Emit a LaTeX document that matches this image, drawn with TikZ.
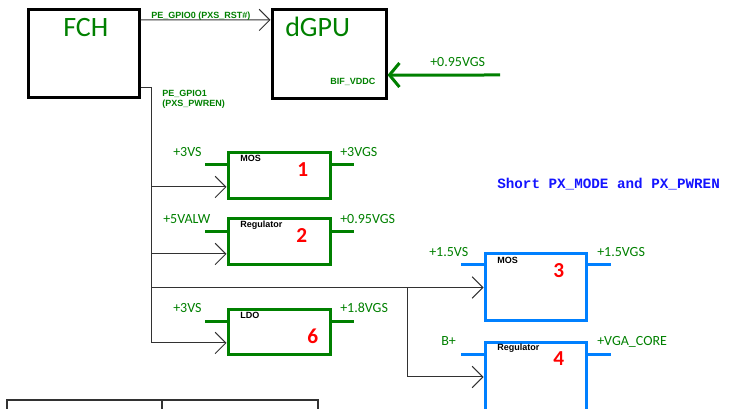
\documentclass[tikz,border=0pt]{standalone}
\usepackage{fontspec}
\setmainfont{Carlito}
\newfontfamily\arb{Liberation Sans}
\newfontfamily\monof{Liberation Mono}
\usetikzlibrary{arrows.meta}
\definecolor{grn}{RGB}{0,128,0}
\definecolor{bbox}{RGB}{0,128,255}
\definecolor{btxt}{RGB}{20,20,255}
\definecolor{rd}{RGB}{255,0,0}
\definecolor{wirec}{RGB}{50,50,50}
\begin{document}
\begin{tikzpicture}[x=0.75pt,y=-0.75pt,
  bigtxt/.style={text=grn, font=\fontsize{21}{21}\selectfont, inner sep=0, anchor=base west},
  vlbl/.style={text=grn, font=\fontsize{10.5}{10.5}\selectfont, inner sep=0, anchor=base west},
  sig/.style={text=grn, font=\arb\bfseries\fontsize{6.75}{8}\selectfont, inner sep=0, anchor=base west},
  kind/.style={text=black, font=\arb\bfseries\fontsize{6.75}{8}\selectfont, inner sep=0, anchor=base west},
  num/.style={text=rd, font=\bfseries\fontsize{16}{16}\selectfont, inner sep=0, anchor=base west},
  chip/.style={draw=black, line width=2.25pt, inner sep=0},
  gbox/.style={draw=grn, line width=2.25pt, minimum width=76.5pt, minimum height=34.5pt, inner sep=0},
  bbx/.style={draw=bbox, line width=2.25pt, minimum width=75.75pt, inner sep=0},
  stubg/.style={draw=grn, line width=2.25pt},
  stubb/.style={draw=bbox, line width=2.25pt},
  wire/.style={draw=wirec, line width=0.75pt},
  warrow/.style={wire, -{Straight Barb[length=8pt,width=16pt]}}
]
\useasboundingbox (0,0) rectangle (736,409);
\clip (0,0) rectangle (736,409);

% chips
\node[chip, minimum width=83.25pt, minimum height=66pt] (fch) at (83.5,54) {};
\node[bigtxt] (fcht) at (63,37) {FCH};
\node[chip, minimum width=85.5pt, minimum height=66.75pt] (gpu) at (329,54.5) {};
\node[bigtxt] (gput) at (285,37) {dGPU};
\node[sig] (bif) at (330,85) {BIF\_VDDC};
\node[vlbl] (v095) at (430,67) {+0.95VGS};
\coordinate (vin) at (500,75);
\draw[draw=grn, line width=2.25pt, -{Straight Barb[length=7.5pt,width=18pt]}] (vin) -- ([yshift=-15.4pt]gpu.east);

\draw[warrow] ([yshift=25.5pt]fch.east) -- ([yshift=25.9pt]gpu.west);
\node[sig] (g0) at (151,19) {PE\_GPIO0 (PXS\_RST\#)};
\node[sig] (g1a) at (162,97) {PE\_GPIO1};
\node[sig] (g1b) at (162,106.5) {(PXS\_PWREN)};

% green boxes
\node[gbox] (b1) at (279,176) {};
\node[gbox] (b2) at (279,242) {};
\node[gbox, minimum height=33.75pt] (b6) at (279,332.5) {};
% blue boxes
\node[bbx, minimum height=50.25pt] (b3) at (535.5,287.5) {};
\node[bbx, minimum height=51pt] (b4) at (535.5,377) {};

% stubs
\draw[stubg] ([yshift=8.25pt]b1.west) -- ++(-22,0);
\draw[stubg] ([yshift=8.25pt]b1.east) -- ++(22,0);
\draw[stubg] ([yshift=7.5pt]b2.west) -- ++(-22,0);
\draw[stubg] ([yshift=7.5pt]b2.east) -- ++(22,0);
\draw[stubg] ([yshift=8.6pt]b6.west) -- ++(-22,0);
\draw[stubg] ([yshift=8.6pt]b6.east) -- ++(22,0);
\draw[stubb] ([yshift=16.9pt]b3.west) -- ++(-23,0);
\draw[stubb] ([yshift=16.9pt]b3.east) -- ++(23,0);
\draw[stubb] ([yshift=16.5pt]b4.west) -- ++(-23,0);
\draw[stubb] ([yshift=16.5pt]b4.east) -- ++(23,0);

% labels
\node[vlbl] (l1a) at (173,157) {+3VS};
\node[vlbl] (l1b) at (340,157) {+3VGS};
\node[kind] (k1) at (240,162) {MOS};
\node[num] (n1) at (297,177) {1};
\node[vlbl] (l2a) at (163,224) {+5VALW};
\node[vlbl] (l2b) at (340,224) {+0.95VGS};
\node[kind] (k2) at (240,228) {Regulator};
\node[num] (n2) at (296,243) {2};
\node[vlbl] (l6a) at (173,313) {+3VS};
\node[vlbl] (l6b) at (340,313) {+1.8VGS};
\node[kind] (k6) at (240,319) {LDO};
\node[num] (n6) at (307,344) {6};
\node[vlbl] (l3a) at (429,257) {+1.5VS};
\node[vlbl] (l3b) at (597,257) {+1.5VGS};
\node[kind] (k3) at (497,264) {MOS};
\node[num] (n3) at (553,278) {3};
\node[vlbl] (l4a) at (441,346) {B+};
\node[vlbl] (l4b) at (597,346) {+VGA\_CORE};
\node[kind] (k4) at (497,351) {Regulator};
\node[num] (n4) at (553,366) {4};

\node[text=btxt, font=\monof\bfseries\fontsize{10.7}{12}\selectfont, inner sep=0, anchor=base west] (note) at (497,189) {Short PX\_MODE and PX\_PWREN};

% wiring
\coordinate (t0) at (151,88);
\coordinate (j1) at (151,187);
\coordinate (j2) at (151,254);
\coordinate (j3) at (151,287.5);
\coordinate (j4) at (407,287.5);
\coordinate (j6) at (151,343);
\draw[warrow] ([yshift=-25.5pt]fch.east) -- (t0) -- (j6) -- ([yshift=-7.875pt]b6.west);
\draw[warrow] (j1) -- ([yshift=-8.25pt]b1.west);
\draw[warrow] (j2) -- ([yshift=-9pt]b2.west);
\draw[warrow] (j3) -- (b3.west);
\draw[warrow] (j4) |- (b4.west);

% table fragment
\draw[draw=wirec, line width=1pt] (7,415) -- (7,400) -- (318,400) -- (318,415);
\draw[draw=wirec, line width=1pt] (162,400) -- (162,415);
\end{tikzpicture}
\end{document}
